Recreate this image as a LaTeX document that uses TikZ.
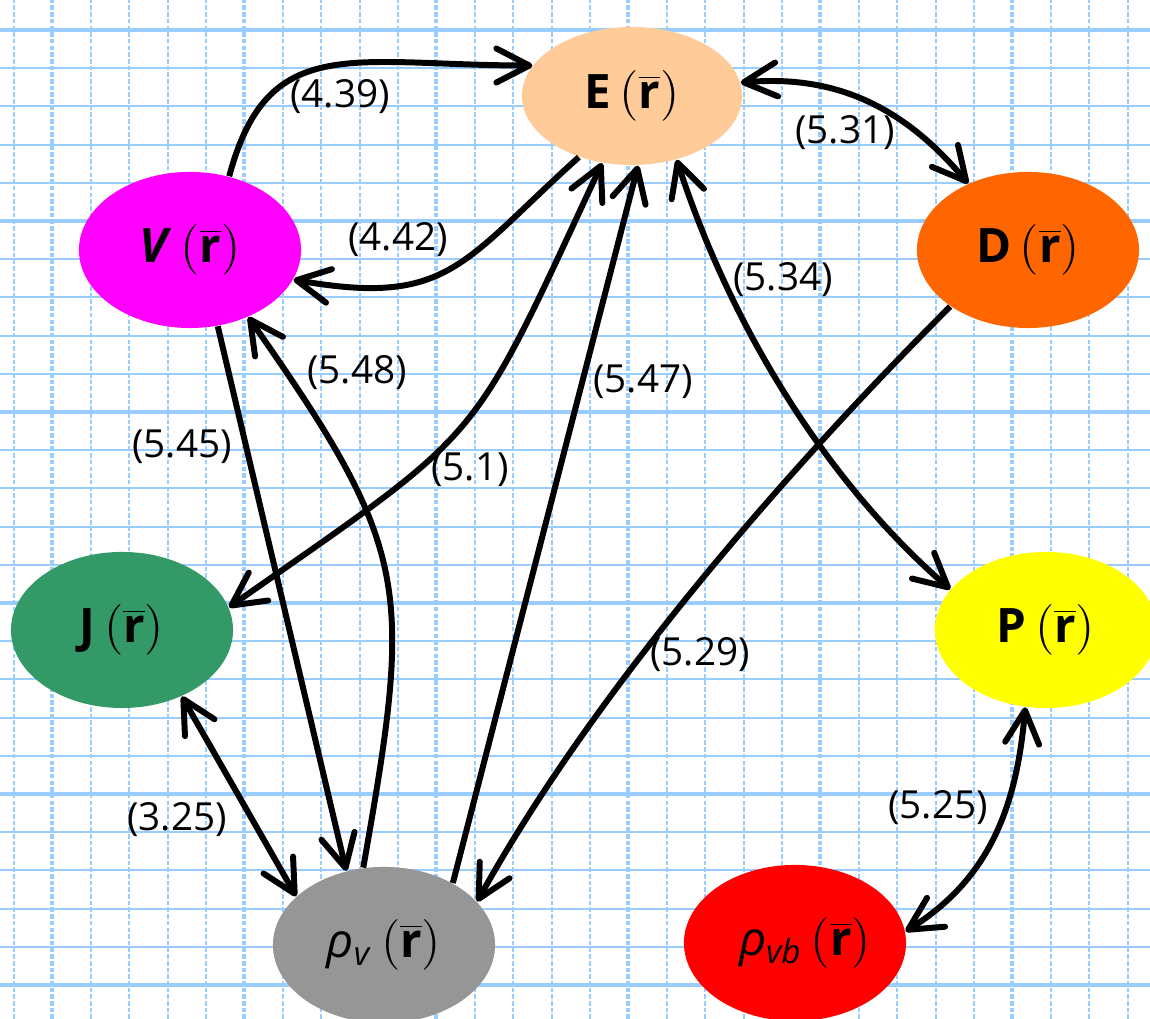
\documentclass[tikz,border=0pt]{standalone}
\usepackage{fontspec}
\setmainfont{Open Sans}
\usepackage{tikz}
\usetikzlibrary{scopes}
\usetikzlibrary{shapes.geometric}
\usetikzlibrary{arrows.meta}

\definecolor{gridblue}{RGB}{153,204,255}
\definecolor{peach}{RGB}{255,204,153}
\definecolor{vmagenta}{RGB}{255,0,255}
\definecolor{dorange}{RGB}{255,102,0}
\definecolor{jgreen}{RGB}{51,153,102}
\definecolor{pyellow}{RGB}{255,255,0}
\definecolor{rhogray}{RGB}{150,150,150}
\definecolor{rhored}{RGB}{255,0,0}

\newcommand{\rpos}{$\,(\overline{\textbf{r}})$}

\begin{document}
\begin{tikzpicture}[x=0.01cm,y=0.01cm,
        field/.style={ellipse,inner sep=0pt,minimum width=2.22cm,minimum height=1.56cm,
            font=\fontsize{13.5}{16}\selectfont},
        link/.style={line width=1.7pt,draw=black},
        num/.style={font=\fontsize{11}{13}\selectfont},
        >={Straight Barb[length=3.3mm,width=3.4mm,round]}]

    \fill[white] (0,0) rectangle (1150,1019);
    \useasboundingbox (0,0) rectangle (1150,1019);

    % Grid paper
    {[draw=gridblue,line width=0.55pt]
        \foreach \k in {0,...,25}
            \draw (0,{989-38.2*\k}) -- (1150,{989-38.2*\k});
        \foreach \k in {0,5,...,25}
            \draw[line width=1.1pt] (0,{989-38.2*\k}) -- (1150,{989-38.2*\k});
    }
    {[draw=gridblue,line width=0.55pt,dash pattern=on 1.3pt off 0.6pt]
        \foreach \k in {0,...,29}
            \draw ({14+38.4*\k},0) -- ({14+38.4*\k},1019);
        \foreach \k in {1,6,...,26}
            \draw[line width=1.1pt] ({14+38.4*\k},0) -- ({14+38.4*\k},1019);
    }

    % Fields
    \node[field,fill=peach,minimum width=2.2cm,minimum height=1.38cm] (E) at (632,923) {\textbf{E}\rpos};
    \node[field,fill=vmagenta] (V) at (190,769) {\textbf{\textit{V}}\rpos};
    \node[field,fill=dorange] (D) at (1028,769) {\textbf{D}\rpos};
    \node[field,fill=jgreen] (J) at (122,389) {\textbf{J}\rpos};
    \node[field,fill=pyellow] (P) at (1046,389) {\textbf{P}\rpos};
    \node[field,fill=rhogray] (rv) at (384,74) {\textit{ρ}\textsubscript{\textit{v}}\rpos};
    \node[field,fill=rhored] (rvb) at (795,76) {\hspace{0.2cm}\textit{ρ}\textsubscript{\textit{vb}}\rpos};

    % Links
    \draw[link,->] (V.62) to[out=75,in=180,out distance=1.5cm,in distance=1.8cm] (E.163);
    \draw[link,->] (E.229) to[out=222,in=-10,looseness=1.3] (V.344);
    \draw[link,<->] (E.7) to[out=5,in=130] (D.132);
    \draw[link,<->] (E.-55) to[out=-72,in=139,looseness=0.85] (P.157);
    \draw[link,<->] (E.246) to[out=245,in=35,looseness=1.4] (J.12);
    \draw[link,->] (V.-70) -- (rv.117);
    \draw[link,->] (rv.105) to[out=80,in=-55,looseness=1.3] (V.311);
    \draw[link,->] (rv.42) -- (E.-85);
    \draw[link,->] (D.216) to[out=225,in=61,looseness=0.8] (rv.25);
    \draw[link,<->] (J.-48) -- (rv.151);
    \draw[link,<->] (P.255) to[out=265,in=32] (rvb.6);

    % Equation numbers
    \node[num] (l439) at (340,922) {(4.39)};
    \node[num] (l442) at (398,779) {(4.42)};
    \node[num] (l531) at (845,886) {(5.31)};
    \node[num] (l534) at (783,739) {(5.34)};
    \node[num] (l548) at (357,646) {(5.48)};
    \node[num] (l547) at (643,637) {(5.47)};
    \node[num] (l545) at (182,572) {(5.45)};
    \node[num] (l51) at (470,549) {(5.1)};
    \node[num] (l529) at (700,364) {(5.29)};
    \node[num] (l325) at (177,199) {(3.25)};
    \node[num] (l525) at (938,211) {(5.25)};
\end{tikzpicture}
\end{document}
